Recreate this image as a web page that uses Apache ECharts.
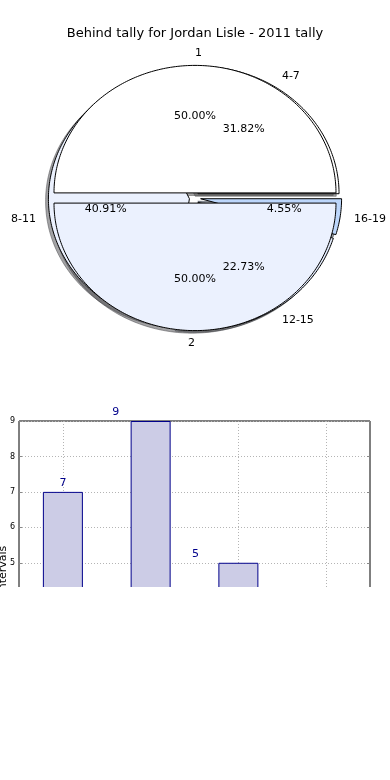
<!DOCTYPE html>
<html>
<head>
<meta charset="utf-8">
<script src="https://cdn.jsdelivr.net/npm/echarts@6/dist/echarts.min.js"></script>
<style>
html,body{margin:0;padding:0;background:#fff;}
#chart{width:390px;height:780px;}
</style>
</head>
<body>
<div id="chart"></div>
<script>
// ---- data ----
const titleText = 'Behind tally for Jordan Lisle - 2011 tally';
const halfNames = ['1', '2'];
const halfValues = [11, 11];
const rangeNames = ['4-7', '8-11', '12-15', '16-19'];
const rangeValues = [7, 9, 5, 1];
const barCategories = ['4-7', '8-11', '12-15', '16-19'];
const barValues = [7, 9, 5, 1];
const yAxisName = 'intervals';

// ---- styles ----
const halfColors = ['#ffffff', '#ebf1fe'];
const rangeColors = ['#ffffff', '#ebf1fe', '#e3ecfd', '#bcd6fb'];
const EXPLODE = 0.04;
const SHADOW_OFF = -0.02;
const labelShiftX = [0, -35, -43, -43];
const FONT = 'DejaVu Sans';

function buildWedges(names, values) {
  const total = values.reduce((a, b) => a + b, 0);
  let cum = 0;
  return names.map((n, i) => {
    const s = cum / total;
    cum += values[i];
    return { name: n, value: [s, cum / total, values[i] / total * 100] };
  });
}
const halfData = buildWedges(halfNames, halfValues);
const rangeData = buildWedges(rangeNames, rangeValues);

function geom(api) {
  const a0 = api.value(0) * 2 * Math.PI;
  const a1 = api.value(1) * 2 * Math.PI;
  const mid = (a0 + a1) / 2;
  return { a0, a1, mid, cx: EXPLODE * Math.cos(mid), cy: EXPLODE * Math.sin(mid) };
}

function wedgeRenderer(colors, isShadow) {
  return function (params, api) {
    const g = geom(api);
    const ox = isShadow ? SHADOW_OFF : 0, oy = isShadow ? SHADOW_OFF : 0;
    const cx = g.cx + ox, cy = g.cy + oy;
    const pts = [api.coord([cx, cy])];
    const n = Math.max(2, Math.ceil((g.a1 - g.a0) / (Math.PI / 180)));
    for (let k = 0; k <= n; k++) {
      const t = g.a0 + (g.a1 - g.a0) * k / n;
      pts.push(api.coord([cx + Math.cos(t), cy + Math.sin(t)]));
    }
    let style;
    if (isShadow) {
      const c = colors[params.dataIndex];
      const r = parseInt(c.substr(1, 2), 16) * 0.3, gg = parseInt(c.substr(3, 2), 16) * 0.3, b = parseInt(c.substr(5, 2), 16) * 0.3;
      const col = 'rgba(' + Math.round(r) + ',' + Math.round(gg) + ',' + Math.round(b) + ',0.5)';
      style = { fill: col, stroke: col, lineWidth: 1 };
    } else {
      style = { fill: colors[params.dataIndex], stroke: '#000', lineWidth: 1 };
    }
    return { type: 'polygon', shape: { points: pts }, style: style };
  };
}

function labelRenderer(names) {
  return function (params, api) {
    const g = geom(api);
    const pp = api.coord([g.cx + 0.6 * Math.cos(g.mid), g.cy + 0.6 * Math.sin(g.mid)]);
    const lp = api.coord([g.cx + 1.1 * Math.cos(g.mid), g.cy + 1.1 * Math.sin(g.mid)]);
    const c = Math.cos(g.mid);
    return {
      type: 'group',
      children: [
        { type: 'text', x: pp[0], y: pp[1], style: { text: api.value(2).toFixed(2) + '%', align: 'center', verticalAlign: 'middle', fontSize: 11, fontFamily: FONT, fill: '#000' } },
        { type: 'text', x: lp[0], y: lp[1], style: { text: names[params.dataIndex], align: c > 0 ? 'left' : 'right', verticalAlign: 'middle', fontSize: 11, fontFamily: FONT, fill: '#000' } }
      ]
    };
  };
}

function customSeries(data, renderer, z) {
  return { type: 'custom', xAxisIndex: 0, yAxisIndex: 0, coordinateSystem: 'cartesian2d', data: data, renderItem: renderer, z: z, silent: true, animation: false, encode: { x: 0, y: 1 }, clip: false };
}

const gridLine = { type: [1, 2], color: '#b4b4b4', width: 1 };

const option = {
  animation: false,
  backgroundColor: '#fff',
  title: { text: titleText, left: 'center', top: 22, textStyle: { fontSize: 13, fontWeight: 'normal', color: '#000', fontFamily: FONT } },
  grid: [
    { left: 4.65, right: 4.65, top: 45, bottom: 429, show: false, outerBoundsMode: 'none', containLabel: false },
    { left: 19, right: 20, top: 421, bottom: 40, show: true, borderColor: '#000', borderWidth: 1, outerBoundsMode: 'none', containLabel: false }
  ],
  xAxis: [
    { gridIndex: 0, type: 'value', min: -1.35, max: 1.35, show: false },
    { gridIndex: 1, type: 'category', data: barCategories, boundaryGap: true,
      axisLine: { show: false }, axisLabel: { show: false },
      axisTick: { show: true, inside: true, alignWithLabel: true, length: 319, lineStyle: gridLine },
      splitLine: { show: false } },
    { gridIndex: 1, type: 'category', data: barCategories, boundaryGap: true, position: 'top',
      axisLine: { show: false }, axisLabel: { show: false },
      axisTick: { show: true, inside: true, alignWithLabel: true, length: 3, lineStyle: { color: '#888', width: 1.5 } },
      splitLine: { show: false } }
  ],
  yAxis: [
    { gridIndex: 0, type: 'value', min: -1.2, max: 1.2, show: false },
    { gridIndex: 1, type: 'value', min: 0, max: 9, interval: 1,
      name: yAxisName, nameLocation: 'middle', nameRotate: 90, nameGap: 10, nameMoveOverlap: false,
      nameTextStyle: { fontSize: 11, fontFamily: FONT, color: '#000', padding: [0, 0, 0, 22] },
      axisLine: { show: false },
      axisTick: { show: true, inside: true, length: 3, lineStyle: { color: '#888' } },
      axisLabel: { fontSize: 8, fontFamily: FONT, color: '#000', margin: 4 },
      splitLine: { show: true, lineStyle: gridLine } },
    { gridIndex: 1, type: 'value', min: 0, max: 9, interval: 1, position: 'right',
      axisLine: { show: false }, axisLabel: { show: false },
      axisTick: { show: true, inside: true, length: 3, lineStyle: { color: '#888' } },
      splitLine: { show: false } }
  ],
  series: [
    customSeries(rangeData, wedgeRenderer(rangeColors, true), 1),
    customSeries(halfData, wedgeRenderer(halfColors, true), 1),
    customSeries(rangeData, wedgeRenderer(rangeColors, false), 2),
    customSeries(halfData, wedgeRenderer(halfColors, false), 3),
    customSeries(rangeData, labelRenderer(rangeNames), 4),
    customSeries(halfData, labelRenderer(halfNames), 4),
    {
      type: 'bar', xAxisIndex: 1, yAxisIndex: 1, barWidth: 40,
      data: barValues.map((v, i) => ({ value: v, label: { offset: [labelShiftX[i], 0] } })),
      itemStyle: { color: '#ccccE6', borderColor: '#00008b', borderWidth: 1 },
      label: { show: true, position: 'top', distance: 3, fontSize: 11, fontFamily: FONT, color: '#00008b' },
      z: 2
    }
  ],
  graphic: [
    { type: 'rect', shape: { x: 0, y: 587, width: 390, height: 193 }, style: { fill: '#fff' }, z: 100 }
  ]
};

const chart = echarts.init(document.getElementById('chart'), null, { renderer: 'canvas' });
chart.setOption(option);
</script>
</body>
</html>
